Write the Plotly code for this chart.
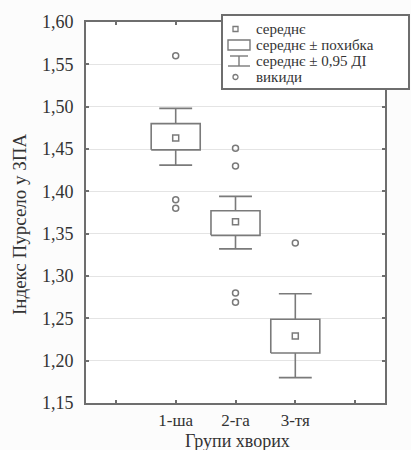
import plotly.graph_objects as go

# ---- data ----
groups = ["1-ша", "2-га", "3-тя"]
means = [1.463, 1.364, 1.229]
se_lo = [1.449, 1.348, 1.209]
se_hi = [1.480, 1.377, 1.249]
ci_lo = [1.431, 1.332, 1.180]
ci_hi = [1.498, 1.394, 1.279]
outliers = [[1.560, 1.390, 1.380], [1.451, 1.430, 1.280, 1.269], [1.339]]

y_ticks = [1.15, 1.20, 1.25, 1.30, 1.35, 1.40, 1.45, 1.50, 1.55, 1.60]
legend_labels = ["середнє", "середнє ± похибка", "середнє ± 0,95 ДІ", "викиди"]

W, H = 411, 450
ML, MR, MT, MB = 86, 26, 22, 47
PW, PH = W - ML - MR, H - MT - MB

FONT = "Liberation Serif"
LINE = "#7a7a7a"
AXIS = "#6e6e6e"
TXT = "#333333"

pos = [i + 1 for i in range(len(groups))]
bw = 0.41
cw = 0.275

fig = go.Figure()

for i, x in enumerate(pos):
    # whiskers (CI)
    fig.add_trace(go.Scatter(
        x=[x, x, None, x, x, None, x - cw, x + cw, None, x - cw, x + cw],
        y=[se_hi[i], ci_hi[i], None, se_lo[i], ci_lo[i], None,
           ci_hi[i], ci_hi[i], None, ci_lo[i], ci_lo[i]],
        mode="lines", line=dict(color=LINE, width=1.6),
        hoverinfo="skip", showlegend=False))
    # box (SE)
    fig.add_trace(go.Scatter(
        x=[x - bw, x + bw, x + bw, x - bw, x - bw],
        y=[se_lo[i], se_lo[i], se_hi[i], se_hi[i], se_lo[i]],
        mode="lines", fill="toself", fillcolor="white",
        line=dict(color=LINE, width=1.6),
        hoverinfo="skip", showlegend=False))
    # mean
    fig.add_trace(go.Scatter(
        x=[x], y=[means[i]], mode="markers",
        marker=dict(symbol="square-open", size=6, color=LINE,
                    line=dict(width=1.5, color=LINE)),
        showlegend=False))
    # outliers
    fig.add_trace(go.Scatter(
        x=[x] * len(outliers[i]), y=outliers[i], mode="markers",
        marker=dict(symbol="circle-open", size=6, color=LINE,
                    line=dict(width=1.5, color=LINE)),
        showlegend=False))


def px_x(p):
    return (p - ML) / PW


def px_y(p):
    return (H - MB - p) / PH


rows_y = [29, 45, 61, 77]

shapes = []
# legend frame
shapes.append(dict(type="rect", xref="paper", yref="paper",
                   x0=px_x(222), x1=px_x(409), y0=px_y(89), y1=px_y(15),
                   line=dict(color=AXIS, width=2), fillcolor="white", layer="above"))
# legend symbols
shapes.append(dict(type="rect", xref="paper", yref="paper",
                   x0=px_x(233), x1=px_x(238), y0=px_y(rows_y[0] + 2.5), y1=px_y(rows_y[0] - 2.5),
                   line=dict(color=LINE, width=1.3), layer="above"))
shapes.append(dict(type="rect", xref="paper", yref="paper",
                   x0=px_x(228), x1=px_x(250), y0=px_y(rows_y[1] + 5), y1=px_y(rows_y[1] - 5),
                   line=dict(color=LINE, width=1.4), layer="above"))
shapes.append(dict(type="line", xref="paper", yref="paper",
                   x0=px_x(230), x1=px_x(248), y0=px_y(rows_y[2] - 5), y1=px_y(rows_y[2] - 5),
                   line=dict(color=LINE, width=1.4), layer="above"))
shapes.append(dict(type="line", xref="paper", yref="paper",
                   x0=px_x(239), x1=px_x(239), y0=px_y(rows_y[2] - 5), y1=px_y(rows_y[2] + 5),
                   line=dict(color=LINE, width=1.4), layer="above"))
shapes.append(dict(type="line", xref="paper", yref="paper",
                   x0=px_x(228), x1=px_x(250), y0=px_y(rows_y[2] + 5), y1=px_y(rows_y[2] + 5),
                   line=dict(color=LINE, width=1.4), layer="above"))
shapes.append(dict(type="circle", xref="paper", yref="paper",
                   x0=px_x(233), x1=px_x(238), y0=px_y(rows_y[3] + 2.5), y1=px_y(rows_y[3] - 2.5),
                   line=dict(color=LINE, width=1.3), layer="above"))

annotations = []
for lab, yy in zip(legend_labels, rows_y):
    annotations.append(dict(text=lab, xref="paper", yref="paper",
                            x=px_x(255), y=px_y(yy), xanchor="left", yanchor="middle",
                            showarrow=False, borderpad=0,
                            font=dict(family=FONT, size=15, color=TXT)))
annotations.append(dict(text="Індекс Пурсело у ЗПА", xref="paper", yref="paper",
                        x=px_x(19), y=px_y(224), textangle=-90,
                        xanchor="center", yanchor="middle", showarrow=False,
                        font=dict(family=FONT, size=19, color=TXT)))
annotations.append(dict(text="Групи хворих", xref="paper", yref="paper",
                        x=px_x(237), y=px_y(441), xanchor="center", yanchor="middle",
                        showarrow=False, borderpad=0,
                        font=dict(family=FONT, size=18, color=TXT)))

fig.update_layout(
    width=W, height=H,
    margin=dict(l=ML, r=MR, t=MT, b=MB),
    paper_bgcolor="#fcfcfc", plot_bgcolor="white",
    separators=", ",
    font=dict(family=FONT, size=18, color=TXT),
    showlegend=False,
    shapes=shapes, annotations=annotations,
    xaxis=dict(range=[-0.5, 4.5], tickvals=[0, 1, 2, 3, 4],
               ticktext=[""] + groups + [""],
               showgrid=False, zeroline=False,
               showline=True, linecolor=AXIS, linewidth=2, mirror="ticks",
               ticks="inside", ticklen=3, tickcolor=AXIS, tickwidth=1.5,
               ticklabelstandoff=1,
               tickfont=dict(family=FONT, size=17, color=TXT)),
    yaxis=dict(range=[1.15, 1.60], tickvals=y_ticks, tickformat=".2f",
               showgrid=True, gridcolor="#e4e4e4", gridwidth=1, zeroline=False,
               showline=True, linecolor=AXIS, linewidth=2, mirror="ticks",
               ticks="inside", ticklen=3, tickcolor=AXIS, tickwidth=1.5,
               ticklabelstandoff=7,
               tickfont=dict(family=FONT, size=18, color=TXT)),
)

fig.write_html("out.html")
